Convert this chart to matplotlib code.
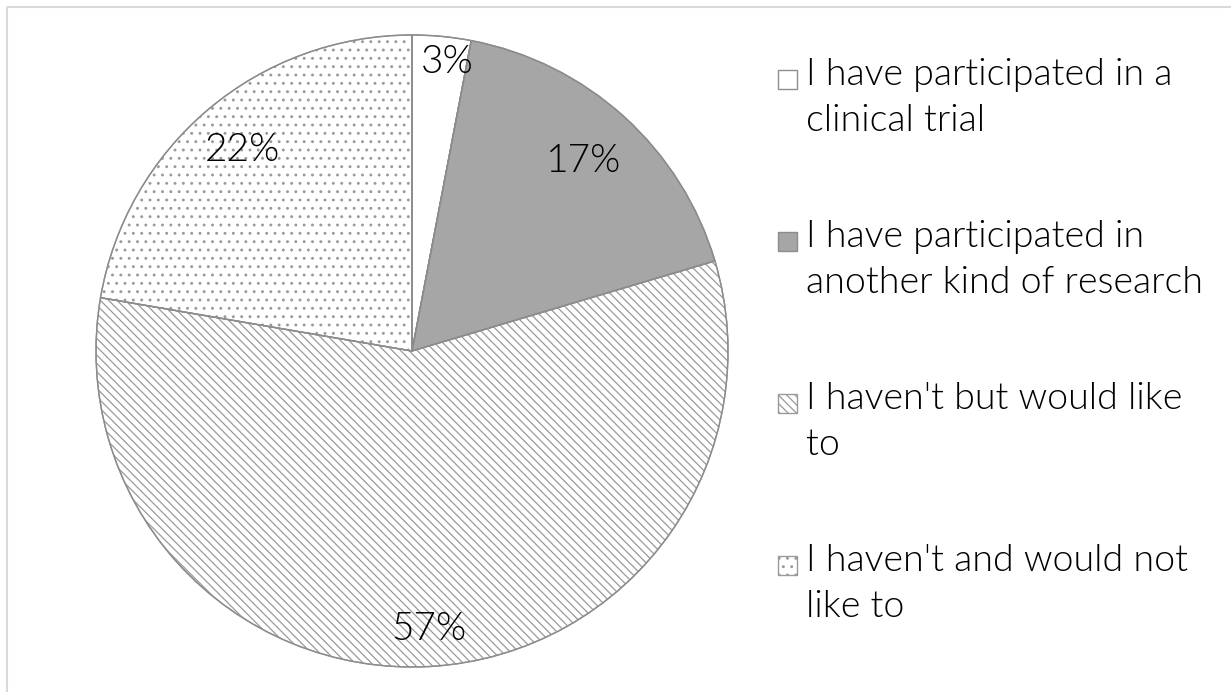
import matplotlib.pyplot as plt
from matplotlib.patches import Rectangle
import numpy as np

plt.rcParams['font.family'] = ['Lato', 'DejaVu Sans']
plt.rcParams['hatch.linewidth'] = 0.9

# Survey answers (share of respondents, %)
labels = [
    'I have participated in a\nclinical trial',
    'I have participated in\nanother kind of research',
    "I haven't but would like\nto",
    "I haven't and would not\nlike to",
]
shares = [3.0, 17.4, 57.3, 22.3]

colors = ['white', '#a6a6a6', 'white', 'white']
hatches = [None, None, '\\\\\\\\', '..']
edge = '#8c8c8c'
hatch_col = '#9a9a9a'

fig = plt.figure(figsize=(12.31, 6.92), dpi=100)

# light frame around chart area
frame_ax = fig.add_axes([0, 0, 1, 1])
frame_ax.set_xlim(0, 1231)
frame_ax.set_ylim(692, 0)
frame_ax.axis('off')
frame_ax.add_patch(Rectangle((6.5, 6.5), 1240, 700, fill=False, edgecolor='#d9d9d9', linewidth=1.5))

# pie
ax = fig.add_axes([96 / 1231, 25 / 692, 632 / 1231, 632 / 692])
wedges, _, autotexts = ax.pie(
    shares, colors=colors, startangle=90, counterclock=False,
    autopct='%.0f%%', radius=1,
    wedgeprops=dict(edgecolor=edge, linewidth=1.0),
    textprops=dict(fontsize=28, color='black', fontweight=300))
for w, h in zip(wedges, hatches):
    if h:
        w.set_hatch(h)
        w.set_edgecolor(hatch_col)

# outline on top, so the hatched slices keep the same border
ax.pie(shares, colors=['none'] * len(shares), startangle=90, counterclock=False, radius=1,
       wedgeprops=dict(edgecolor=edge, linewidth=1.0, fill=False))

# place labels like the original (best fit)
dists = [0.92, 0.81, 0.88, 0.83]
for w, t, d in zip(wedges, autotexts, dists):
    ang = np.deg2rad((w.theta1 + w.theta2) / 2 - (1.5 if d > 0.9 else 0))
    t.set_position((d * np.cos(ang), d * np.sin(ang)))
    t.set_ha('center')
    t.set_va('center')
    t.set_zorder(5)

ax.set_xlim(-1.0, 1.0)
ax.set_ylim(-1.0, 1.0)
ax.set_aspect('equal')

# legend drawn by hand so the marker sits on the first line
y0 = 80
step = 162
for i, (lab, c, h) in enumerate(zip(labels, colors, hatches)):
    y = y0 + i * step
    frame_ax.add_patch(Rectangle((778, y - 10), 19, 19, facecolor=c,
                                 edgecolor=hatch_col if h else edge,
                                 hatch=h, linewidth=1.0))
    frame_ax.text(806, y - 22, lab, fontsize=27, va='top', ha='left',
                  linespacing=1.43, color='black', fontweight=300)

plt.savefig('out.png', dpi=100)
